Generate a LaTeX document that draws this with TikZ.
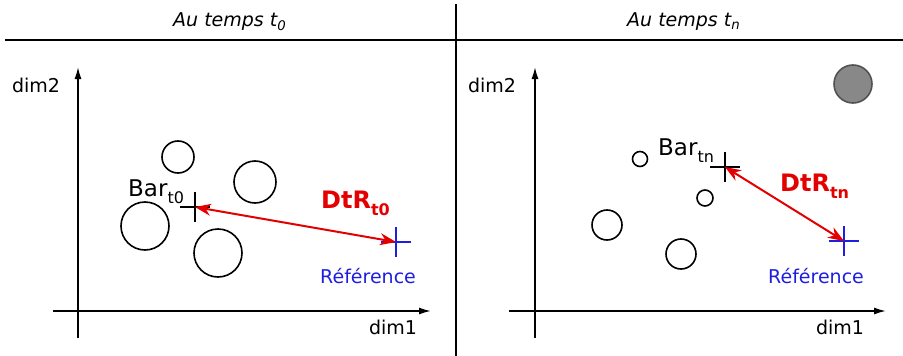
\documentclass[tikz,border=0pt]{standalone}
\usepackage{fontspec}
\setmainfont{DejaVu Sans}
\usetikzlibrary{arrows.meta}
\definecolor{dtrred}{RGB}{228,0,0}
\definecolor{refblue}{RGB}{30,30,225}
\definecolor{blobgray}{RGB}{136,136,136}
\newcommand{\lowsub}[1]{\raisebox{-7pt}{\fontsize{16}{18}\selectfont #1}}
\begin{document}
\begin{tikzpicture}[x=1pt,y=-1pt,
        every node/.style={font=\fontsize{19}{23}\selectfont,inner sep=0pt},
        barlab/.style={anchor=base west,font=\fontsize{23}{27}\selectfont},
        dtrlab/.style={anchor=base west,text=dtrred,font=\fontsize{24}{28}\selectfont\bfseries},
        axis/.style={line width=1.6pt,-{Latex[length=12pt,width=7pt]}},
        obj/.style={line width=1.6pt},
        crossline/.style={line width=1.5pt},
        dtr/.style={dtrred,line width=2pt,{Stealth[length=16pt,width=12pt]}-{Stealth[length=16pt,width=12pt]}}]
        \useasboundingbox (0,0) rectangle (903,356);
        % frame
        \draw[line width=1.2pt] (5,40) -- (903,40);
        \draw[line width=1.2pt] (456,4) -- (456,356);
        \node[anchor=base west] (title0) at (173,27) {\itshape Au temps t\textsubscript{0}};
        \node[anchor=base west] (titlen) at (627,27) {\itshape Au temps t\textsubscript{n}};
        % axes
        \foreach \ox/\lx/\rx in {78/53/431, 535/509/886} {
                \draw[axis] (\ox,338) -- (\ox,67);
                \draw[axis] (\lx,311) -- (\rx,311);
        }
        \node (dimtwoA) at (36,85) {dim2};
        \node (dimoneA) at (393,327) {dim1};
        \node (dimtwoB) at (492,85) {dim2};
        \node (dimoneB) at (840,327) {dim1};
        % objects at t0
        \foreach \x/\y/\r in {178/157/16, 255/182/21, 145/226/24, 218/253/24} {
                \draw[obj] (\x,\y) circle[radius=\r pt];
        }
        % objects at tn
        \foreach \x/\y/\r in {640/159/7.5, 705/198/8, 607/225/15, 681/254/15} {
                \draw[obj] (\x,\y) circle[radius=\r pt];
        }
        \draw[blobgray!60!black,fill=blobgray,line width=1.6pt] (853,84) circle[radius=19pt];
        % barycentres and reference
        \coordinate (bar0) at (195,207);
        \coordinate (ref0) at (396,242);
        \coordinate (barn) at (725,167);
        \coordinate (refn) at (844,241);
        \foreach \c/\col in {bar0/black, ref0/refblue, barn/black, refn/refblue} {
                \draw[crossline,\col] (\c) ++(-15,0) -- ++(30,0) (\c) ++(0,-15) -- ++(0,30);
        }
        \draw[dtr] (bar0) -- (ref0);
        \draw[dtr] (barn) -- (refn);
        \node[barlab] (barlabA) at (128,196) {Bar\lowsub{t0}};
        \node[barlab] (barlabB) at (658,155) {Bar\lowsub{tn}};
        \node[dtrlab] (dtrA) at (321,208) {DtR\lowsub{t0}};
        \node[dtrlab] (dtrB) at (780,191) {DtR\lowsub{tn}};
        \node[anchor=base west,text=refblue] (refA) at (320,283) {Référence};
        \node[anchor=base west,text=refblue] (refB) at (768,283) {Référence};
\end{tikzpicture}
\end{document}
